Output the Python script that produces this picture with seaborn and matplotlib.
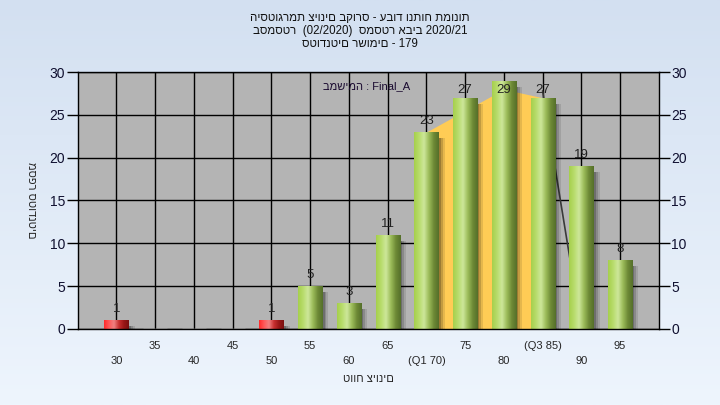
import numpy as np
import pandas as pd
import seaborn as sns
import matplotlib.pyplot as plt
from matplotlib.patches import Rectangle
from matplotlib.colors import LinearSegmentedColormap

# grade bins and number of students in each
grades = [30, 35, 40, 45, 50, 55, 60, 65, 70, 75, 80, 85, 90, 95]
counts = [1, 0, 0, 0, 1, 5, 3, 11, 23, 27, 29, 27, 19, 8]
tick_labels = ["30", "35", "40", "45", "50", "55", "60", "65",
               "(Q1 70)", "75", "80", "(Q3 85)", "90", "95"]
failing = [g < 55 for g in grades]

# interquartile band drawn behind the bars, and the edge line after Q3
band_grades = [70, 80, 85]
band_counts = [23, 28, 27]
edge_grades = [85, 90]
edge_counts = [27.8, 0]

title_lines = ["היסטוגרמת ציונים בקורס - עבוד ונתוח תמונות",
               "בסמסטר  (02/2020)  סמסטר אביב 2020/21",
               "סטודנטים רשומים - 179"]
task_text = "במשימה : Final_A"
x_title = "טווח ציונים"
y_title = "מספר סטודנטים"

sns.set_style("white")
plt.rcParams["font.family"] = ["Liberation Sans", "DejaVu Sans"]

fig = plt.figure(figsize=(7.2, 4.05), dpi=100)

# light blue gradient background
bg = fig.add_axes([0, 0, 1, 1], zorder=-10)
bg_cmap = LinearSegmentedColormap.from_list("bg", ["#d3e0f1", "#eef5fd"])
bg.imshow(np.linspace(0, 1, 256)[:, None], aspect="auto", cmap=bg_cmap,
          extent=(0, 1, 0, 1))
bg.set_axis_off()

ax = fig.add_axes([0.108, 0.188, 0.807, 0.634])
ax.set_facecolor("#b4b4b4")

df = pd.DataFrame({"label": tick_labels, "count": counts})
sns.barplot(data=df, x="label", y="count", order=tick_labels, color="#999999",
            width=0.62, ax=ax, zorder=2)

pos = {g: i for i, g in enumerate(grades)}
bx = [pos[g] for g in band_grades]
ax.fill_between(bx, 0, band_counts, color="#ffcc55", zorder=1, lw=0)
ex = [pos[g] for g in edge_grades]
ax.plot(ex, edge_counts, color="#3a3a3a", lw=1.2, zorder=1.2)

green = LinearSegmentedColormap.from_list(
    "g", ["#a6d04c", "#b8dc6c", "#cde79a", "#9cbc5a", "#6e8a36", "#55702a"])
red = LinearSegmentedColormap.from_list(
    "r", ["#ff2a2a", "#ff5a5a", "#f08080", "#c83030", "#9a1818", "#7a1010"])
grad = np.linspace(0, 1, 64)[None, :]

for i, p in enumerate(ax.patches[:len(counts)]):
    h = p.get_height()
    if h <= 0:
        continue
    x0, w = p.get_x(), p.get_width()
    # soft shadow to the right
    for k, a in enumerate([0.2, 0.15, 0.1]):
        ax.add_patch(Rectangle((x0 + 0.06 + 0.05 * k, -0.3), w, max(h - 0.4, 0.3),
                               color="black", alpha=a, lw=0, zorder=1.5))
    p.set_facecolor("none")
    p.set_edgecolor("none")
    im = ax.imshow(grad, aspect="auto", cmap=red if failing[i] else green,
                   extent=(x0, x0 + w, 0, h), zorder=2.1)
    im.set_clip_path(p)
    ax.text(x0 + w / 2, min(h + 1.3, 27.9), str(counts[i]), ha="center",
            va="center", fontsize=9.5, color="#222222", zorder=3)

ax.set_xlim(-1, len(grades))
ax.set_ylim(0, 30)
ax.set_yticks(range(0, 31, 5))
ax.set_xticks(range(len(grades)))
ax.set_xticklabels([lab if i % 2 else "\n" + lab for i, lab in enumerate(tick_labels)],
                   linespacing=1.6)
ax.set_axisbelow(True)
ax.grid(True, color="black", lw=1)
for s in ax.spines.values():
    s.set_color("black")
    s.set_linewidth(1)
ax.tick_params(axis="x", length=5, width=1, direction="out", color="black",
               labelsize=8, pad=4)
ax.tick_params(axis="y", length=8, width=1, direction="out", color="black",
               labelsize=10, labelcolor="#101030", right=True, labelright=True,
               left=True, pad=1)
ax.set_xlabel(x_title, fontsize=8, labelpad=6)
ax.set_ylabel(y_title, fontsize=8, rotation=270, labelpad=17, va="bottom")

ax.text(0.497, 0.946, task_text, transform=ax.transAxes, ha="center",
        va="center", fontsize=8, color="#1a0a30")

for k, line in enumerate(title_lines):
    fig.text(0.5, 0.956 - 0.032 * k, line, ha="center", va="center",
             fontsize=8.3, color="#111111")

fig.savefig("out.png", dpi=100)
